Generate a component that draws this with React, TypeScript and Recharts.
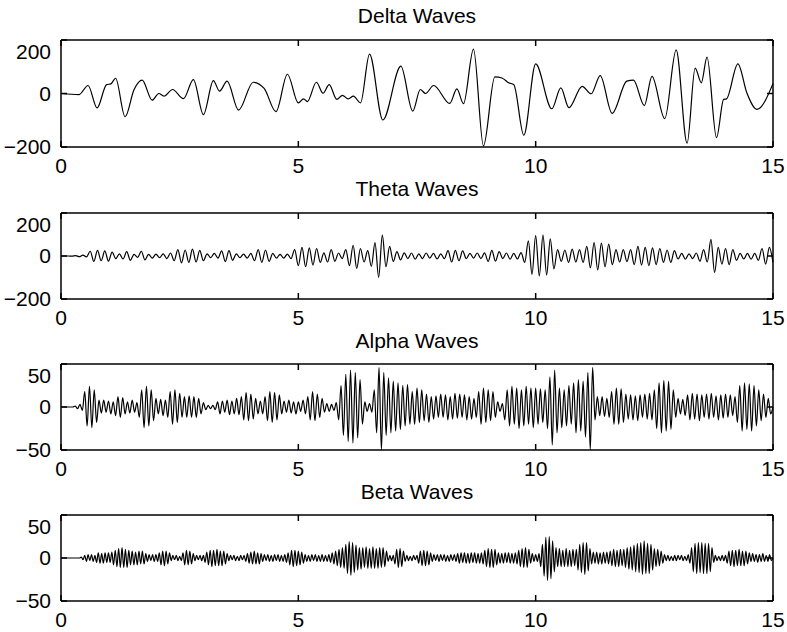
import React from 'react';
import { LineChart, Line, XAxis, YAxis } from 'recharts';

const xTicks = [0, 5, 10, 15];
const titles = ['Delta Waves', 'Theta Waves', 'Alpha Waves', 'Beta Waves'];

// delta: turning points (seconds, value)
const deltaT = [
  0, 0.38, 0.57, 0.76, 0.96, 1.05, 1.15, 1.35, 1.54, 1.71, 1.92, 2.06, 2.17, 2.35, 2.58, 2.79, 3.0, 3.21, 3.34, 3.5,
  3.74, 4.05, 4.28, 4.53, 4.77, 5.0, 5.11, 5.19, 5.38, 5.52, 5.65, 5.81, 5.93, 6.05, 6.16, 6.31, 6.5, 6.78, 7.16, 7.41,
  7.57, 7.68, 7.85, 8.19, 8.34, 8.48, 8.69, 8.9, 9.14, 9.29, 9.43, 9.54, 9.75, 10.0, 10.34, 10.53, 10.7, 10.98, 11.17, 11.36,
  11.61, 11.92, 12.06, 12.29, 12.45, 12.72, 12.96, 13.19, 13.36, 13.49, 13.61, 13.81, 13.96, 14.02, 14.26, 14.45, 14.66, 15,
];
const deltaV = [
  0, -4, 30, -54, 33, 36, 57, -87, 15, 50, -25, 0, -10, 15, -19, 52, -79, 48, 9, 46,
  -62, 42, 19, -68, 72, -35, -20, -30, 42, 1, 33, -22, -7, -20, -10, -35, 147, -99, 102, -66,
  15, 0, 30, -37, 17, -38, 166, -196, 62, 58, 40, 33, -156, 111, -57, 21, -53, 27, -1, 67,
  -74, 46, 50, -45, 64, -94, 163, -186, 95, 40, 136, -165, -22, -20, 111, 2, -59, 37,
];

// theta: peaks and troughs, 13 per second
const thetaRate = 13;
const thetaV = [
  0, 0, 0, -1, 2, -3, 4, -4, 22, -25, 26, -22, 24,
  -24, 18, -12, 10, -14, 20, -20, 8, -6, 22, -18, 8, -10,
  9, -8, 10, -12, 14, -22, 30, -32, 28, -30, 32, -28, 26,
  -22, 10, -8, 12, -10, 24, -26, 25, -20, 10, -8, 9, -10,
  12, -22, 30, -30, 28, -25, 12, -10, 8, -10, 9, -12, 30,
  -45, 40, -50, 38, -42, 35, -30, 15, -28, 30, -25, 14, -12,
  30, -45, 50, -58, 35, -28, 25, -48, 62, -99, 97, -50, 45,
  -25, 20, -18, 15, -12, 14, -15, 10, -12, 14, -10, 12, -14,
  10, -12, 25, -28, 26, -22, 24, -12, 12, -10, 14, -12, 15,
  -25, 26, -24, 20, -12, 14, -15, 12, -14, 16, -30, 70, -85,
  95, -93, 97, -88, 80, -60, 30, -25, 28, -30, 32, -28, 30,
  -30, 45, -55, 62, -65, 60, -50, 55, -40, 30, -28, 30, -26,
  30, -40, 45, -42, 40, -45, 38, -40, 35, -30, 28, -30, 25,
  -14, 12, -15, 10, -12, 14, -25, 30, -28, 77, -77, 40, -38,
  35, -40, 30, -20, 12, -14, 12, -15, 12, -20, 35, -38, 40,
  -30,
];

// alpha: peaks and troughs, 20 per second
const alphaRate = 20;
const alphaV = [
  0, 0, 0, 0, 0, 0, 1, -2, 3, -4, 18, -22, 24, -24, 20, -18, 8, -7, 8, -6,
  7, -8, 6, -10, 12, -12, 11, -8, 6, -7, 8, -6, 5, -12, 20, -24, 24, -22, 20, -16,
  10, -8, 9, -10, 8, -12, 18, -20, 20, -18, 16, -12, 12, -12, 13, -12, 12, -12, 10, -8,
  5, -3, 2, -2, 2, -3, 6, -8, 7, -6, 8, -9, 7, -8, 10, -9, 12, -15, 17, -16,
  15, -14, 10, -8, 7, -8, 12, -16, 18, -18, 17, -15, 14, -8, 7, -6, 8, -7, 6, -8,
  6, -5, 8, -8, 12, -15, 18, -16, 15, -12, 10, -6, 4, -5, 3, -4, 5, -15, 25, -33,
  38, -40, 43, -42, 40, -36, 32, -20, 6, -5, 4, -6, 20, -30, 46, -50, 40, -33, 34, -30,
  30, -28, 28, -26, 25, -22, 26, -20, 18, -20, 22, -18, 20, -16, 15, -18, 12, -14, 13, -12,
  15, -12, 14, -15, 12, -14, 16, -13, 15, -12, 14, -15, 12, -14, 10, -12, 18, -20, 22, -18,
  20, -16, 18, -12, 6, -5, 4, -15, 20, -22, 24, -20, 22, -25, 20, -22, 24, -20, 22, -24,
  22, -20, 21, -18, 20, -25, 35, -44, 43, -30, 22, -24, 20, -22, 25, -20, 28, -30, 32, -28,
  30, -35, 40, -50, 46, -15, 12, -10, 12, -11, 10, -12, 18, -20, 22, -20, 21, -18, 15, -14,
  14, -15, 13, -16, 14, -12, 15, -14, 16, -15, 20, -25, 28, -30, 31, -28, 30, -26, 20, -12,
  10, -8, 9, -10, 14, -15, 16, -14, 15, -16, 14, -12, 15, -14, 16, -12, 13, -15, 14, -13,
  15, -12, 14, -10, 12, -18, 25, -28, 28, -26, 27, -28, 25, -22, 20, -16, 15, -12, 10, -8,
  0,
];

// beta: peaks and troughs, 28 per second
const betaRate = 28;
const betaV = [
  0, 0, 0, 0, 0, 0, 0, 0, 0, 0, 0, 0, 1, -2, 3, -4, 4, -3, 4, -4, 3, -5, 6, -6, 5, -6, 6, -5,
  6, -5, 7, -8, 9, -10, 11, -11, 12, -11, 10, -11, 9, -8, 8, -8, 7, -8, 8, -7, 8, -7, 5, -4, 4, -3, 4, -4,
  4, -4, 6, -8, 8, -9, 8, -7, 6, -3, 3, -2, 3, -3, 2, -3, 6, -8, 9, -8, 8, -7, 5, -3, 3, -2, 3, -3,
  3, -5, 7, -8, 9, -10, 9, -9, 10, -9, 8, -9, 8, -7, 5, -3, 3, -2, 3, -3, 2, -3, 3, -2, 3, -4, 5, -6,
  7, -7, 8, -7, 6, -7, 5, -4, 4, -3, 4, -4, 3, -4, 4, -3, 4, -4, 3, -4, 4, -5, 6, -8, 9, -10, 9, -9,
  8, -8, 7, -6, 4, -4, 3, -4, 4, -3, 4, -4, 3, -4, 4, -4, 3, -4, 4, -5, 6, -7, 8, -9, 10, -11, 12, -12,
  16, -18, 19, -20, 18, -17, 15, -14, 12, -13, 12, -11, 13, -12, 11, -12, 13, -12, 11, -12, 12, -11, 12, -10, 8, -4, 3, -3,
  3, -7, 10, -11, 11, -10, 8, -4, 3, -3, 2, -3, 3, -2, 3, -6, 8, -9, 9, -9, 8, -8, 6, -4, 4, -3, 4, -4,
  4, -3, 4, -4, 3, -4, 4, -3, 4, -4, 5, -6, 6, -5, 6, -6, 5, -6, 6, -5, 6, -6, 5, -6, 6, -7, 9, -10,
  11, -11, 10, -11, 10, -8, 6, -6, 5, -6, 6, -5, 6, -6, 5, -6, 6, -7, 9, -10, 11, -11, 12, -11, 10, -6, 5, -4,
  4, -4, 5, -10, 16, -21, 24, -26, 25, -24, 20, -16, 12, -10, 11, -10, 9, -10, 11, -10, 9, -10, 10, -9, 10, -14, 16, -17,
  18, -19, 18, -15, 11, -7, 7, -6, 7, -7, 6, -7, 7, -6, 7, -7, 8, -9, 10, -10, 9, -10, 10, -9, 10, -11, 12, -13,
  13, -14, 15, -16, 17, -17, 18, -19, 20, -18, 17, -18, 16, -14, 11, -10, 10, -9, 8, -6, 4, -3, 3, -3, 2, -3, 3, -3,
  3, -2, 3, -3, 2, -3, 4, -6, 12, -16, 17, -18, 18, -17, 18, -18, 17, -18, 17, -16, 12, -5, 3, -3, 2, -3, 3, -3,
  3, -6, 8, -9, 9, -10, 9, -9, 10, -9, 8, -9, 8, -7, 6, -4, 5, -4, 4, -5, 4, -4, 5, -4, 3, -4, 4, -3,
  0,
];

const rows = (ts: number[], vs: number[]) => vs.map((v, i) => ({ t: ts[i], v }));
const sampled = (vs: number[], rate: number) => rows(vs.map((_, i) => i / rate), vs);

const panels = [
  { title: titles[0], data: rows(deltaT, deltaV), yMax: 200, top: 40, h: 107, titleY: 22.5 },
  { title: titles[1], data: sampled(thetaV, thetaRate), yMax: 200, top: 213, h: 86, titleY: 196 },
  { title: titles[2], data: sampled(alphaV, alphaRate), yMax: 50, top: 364, h: 86, titleY: 347.5 },
  { title: titles[3], data: sampled(betaV, betaRate), yMax: 50, top: 515, h: 86, titleY: 498.5 },
];

const font = '"Liberation Sans", Arial, Helvetica, sans-serif';
const tickStyle = { fontSize: 21, fill: '#000', fontFamily: font };
const axisLine = { stroke: '#000', strokeWidth: 1.5 };
const fmt = (v: number) => (v < 0 ? '\u2212' + Math.abs(v) : String(v));
const blank = () => '';

const Panel = ({ data, yMax, top, h }: { data: { t: number; v: number }[]; yMax: number; top: number; h: number }) => (
  <div style={{ position: 'absolute', left: 0, top: top - 1 }}>
    <LineChart width={787} height={h + 31} data={data} margin={{ top: 0, right: 0, bottom: 0, left: 0 }}>
      <XAxis xAxisId="b" dataKey="t" type="number" domain={[0, 15]} ticks={xTicks} height={30}
        axisLine={axisLine} tickLine={axisLine} tickSize={-6} tickMargin={17} tick={tickStyle} tickFormatter={fmt} />
      <XAxis xAxisId="t" dataKey="t" orientation="top" type="number" domain={[0, 15]} ticks={xTicks} height={1}
        axisLine={axisLine} tickLine={axisLine} tickSize={-6} tick={tickStyle} tickFormatter={blank} />
      <YAxis yAxisId="l" type="number" domain={[-yMax, yMax]} ticks={[-yMax, 0, yMax]} width={61}
        axisLine={axisLine} tickLine={axisLine} tickSize={-6} tickMargin={16} tick={tickStyle} tickFormatter={fmt} />
      <YAxis yAxisId="r" orientation="right" type="number" domain={[-yMax, yMax]} ticks={[-yMax, 0, yMax]} width={14}
        axisLine={axisLine} tickLine={axisLine} tickSize={-6} tick={tickStyle} tickFormatter={blank} />
      <Line xAxisId="b" yAxisId="l" dataKey="v" type="monotone" stroke="#000" strokeWidth={1.2}
        dot={false} isAnimationActive={false} />
      <Line xAxisId="t" yAxisId="r" dataKey="v" stroke="none" dot={false} activeDot={false}
        isAnimationActive={false} />
    </LineChart>
  </div>
);

export default function App() {
  return (
    <div style={{ position: 'fixed', left: 0, top: 0, width: 787, height: 632, background: '#fff', overflow: 'hidden' }}>
      {panels.map((p) => (
        <Panel key={p.title} data={p.data} yMax={p.yMax} top={p.top} h={p.h} />
      ))}
      <svg width={787} height={632} style={{ position: 'absolute', left: 0, top: 0, pointerEvents: 'none' }}>
        {panels.map((p) => (
          <text key={p.title} x={417} y={p.titleY} textAnchor="middle" fontSize={21} fontFamily={font} fill="#000">
            {p.title}
          </text>
        ))}
      </svg>
    </div>
  );
}
